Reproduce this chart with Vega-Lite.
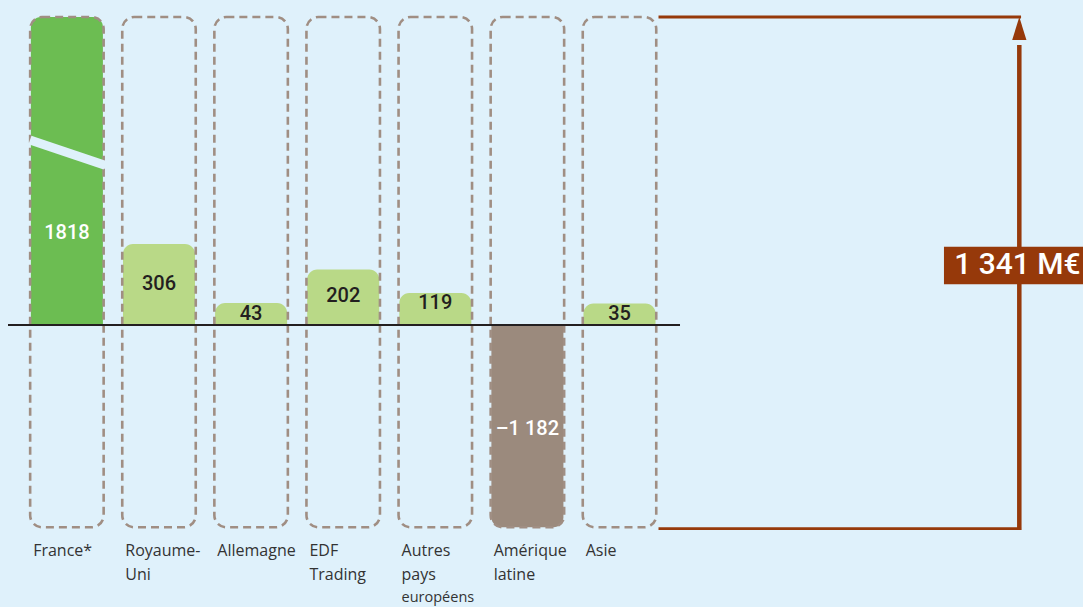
{
  "$schema": "https://vega.github.io/schema/vega-lite/v6.json",
  "width": 1083,
  "height": 607,
  "padding": 0,
  "autosize": "none",
  "background": "#dff1fb",
  "config": {"view": {"stroke": null}},
  "layer": [
    {
      "data": {
        "values": [
          {"region": "France*", "value": 1818, "text": "1818", "label": "France*"},
          {"region": "Royaume-Uni", "value": 306, "text": "306", "label": "Royaume-\nUni"},
          {"region": "Allemagne", "value": 43, "text": "43", "label": "Allemagne"},
          {"region": "EDF Trading", "value": 202, "text": "202", "label": "EDF\nTrading"},
          {"region": "Autres pays européens", "value": 119, "text": "119", "label": "Autres\npays", "note": "européens"},
          {"region": "Amérique latine", "value": -1182, "text": "–1 182", "label": "Amérique\nlatine"},
          {"region": "Asie", "value": 35, "text": "35", "label": "Asie"}
        ]
      },
      "transform": [{"calculate": "datum.value / 2", "as": "mid"}],
      "encoding": {
        "x": {
          "field": "region",
          "type": "nominal",
          "sort": null,
          "axis": null,
          "scale": {
            "domain": ["France*", "Royaume-Uni", "Allemagne", "EDF Trading", "Autres pays européens", "Amérique latine", "Asie"],
            "range": [20.85, 665.55],
            "paddingInner": 0.202,
            "paddingOuter": 0.101
          }
        }
      },
      "layer": [
        {
          "transform": [{"filter": "datum.value > 0"}],
          "mark": {"type": "bar", "width": {"band": 0.98}, "cornerRadiusTopLeft": 10, "cornerRadiusTopRight": 10},
          "encoding": {
            "y": {"field": "value", "type": "quantitative", "axis": null,
              "scale": {"type": "linear", "nice": false, "zero": false,
                "domain": [-1182, -591, 0, 17.5, 21.5, 35, 43, 59.5, 101, 119, 153, 202, 306, 909, 1818],
                "range": [527.3, 429, 325, 314, 314, 303.5, 303, 302.5, 296, 293, 284, 269.5, 244, 232.5, 17]}},
            "y2": {"datum": 0},
            "color": {
              "condition": {"test": "datum.region === 'France*'", "value": "#6cbd52"},
              "value": "#b9d987"
            }
          }
        },
        {
          "transform": [{"filter": "datum.value < 0"}],
          "mark": {"type": "bar", "width": {"band": 0.98}, "cornerRadiusBottomLeft": 10, "cornerRadiusBottomRight": 10, "color": "#9b8a7d"},
          "encoding": {
            "y": {"field": "value", "type": "quantitative", "axis": null},
            "y2": {"datum": 0}
          }
        },
        {
          "mark": {"type": "rect", "fill": "transparent", "stroke": "#a08e83", "strokeWidth": 2.6, "strokeDash": [8, 5], "cornerRadius": 12},
          "encoding": {
            "y": {"datum": 1818, "type": "quantitative", "axis": null},
            "y2": {"datum": -1182}
          }
        },
        {
          "mark": {"type": "text", "font": "Roboto", "fontSize": 20, "fontWeight": 500, "baseline": "middle", "align": "center"},
          "encoding": {
            "y": {"field": "mid", "type": "quantitative", "axis": null},
            "text": {"field": "text"},
            "color": {
              "condition": {"test": "datum.value > 1000 || datum.value < 0", "value": "#ffffff"},
              "value": "#231f20"
            }
          }
        },
        {
          "mark": {"type": "text", "font": "Open Sans", "fontSize": 16, "align": "left", "baseline": "alphabetic", "dx": 3, "dy": 29, "lineBreak": "\n", "lineHeight": 24, "color": "#333333"},
          "encoding": {
            "x": {"field": "region", "type": "nominal", "bandPosition": 0},
            "y": {"datum": -1182, "type": "quantitative", "axis": null},
            "text": {"field": "label"}
          }
        },
        {
          "transform": [{"filter": "isValid(datum.note)"}],
          "mark": {"type": "text", "font": "Open Sans", "fontSize": 14.5, "align": "left", "baseline": "alphabetic", "dx": 3, "dy": 75, "color": "#333333"},
          "encoding": {
            "x": {"field": "region", "type": "nominal", "bandPosition": 0},
            "y": {"datum": -1182, "type": "quantitative", "axis": null},
            "text": {"field": "note"}
          }
        }
      ]
    },
    {
      "data": {"values": [{"total": 1341, "label": "1 341 M€"}]},
      "layer": [
        {
          "mark": {"type": "rule", "stroke": "#dff1fb", "strokeWidth": 9, "strokeCap": "butt"},
          "encoding": {
            "x": {"datum": -0.4007, "type": "quantitative", "axis": null, "scale": {"domain": [0, 6], "range": [66.9, 619.5], "nice": false, "zero": false}},
            "x2": {"datum": 0.4137},
            "y": {"datum": 1299, "type": "quantitative", "axis": null},
            "y2": {"datum": 1192.5}
          }
        },
        {
          "mark": {"type": "rule", "stroke": "#231f20", "strokeWidth": 2.2},
          "encoding": {
            "x": {"datum": -0.6395, "type": "quantitative"},
            "x2": {"datum": 6.657},
            "y": {"datum": 0, "type": "quantitative"}
          }
        },
        {
          "mark": {"type": "rule", "stroke": "#96390a", "strokeWidth": 2.8},
          "encoding": {
            "x": {"datum": 6.4235, "type": "quantitative"},
            "x2": {"datum": 10.36},
            "y": {"datum": 1818, "type": "quantitative"}
          }
        },
        {
          "mark": {"type": "rule", "stroke": "#96390a", "strokeWidth": 2.8},
          "encoding": {
            "x": {"datum": 6.4235, "type": "quantitative"},
            "x2": {"datum": 10.36},
            "y": {"datum": -1190, "type": "quantitative"}
          }
        },
        {
          "mark": {"type": "rule", "stroke": "#96390a", "strokeWidth": 4.5, "strokeCap": "butt"},
          "encoding": {
            "x": {"datum": 10.341, "type": "quantitative"},
            "y": {"datum": -1198, "type": "quantitative"},
            "y2": {"datum": 1700}
          }
        },
        {
          "mark": {"type": "point", "shape": "M0,0L0.62,2L-0.62,2Z", "size": 529, "filled": true, "opacity": 1, "color": "#96390a", "strokeWidth": 0},
          "encoding": {
            "x": {"datum": 10.341, "type": "quantitative"},
            "y": {"datum": 1818, "type": "quantitative"}
          }
        },
        {
          "mark": {"type": "rect", "color": "#96390a"},
          "encoding": {
            "x": {"datum": 9.523, "type": "quantitative"},
            "x2": {"datum": 11.2},
            "y": {"datum": 295, "type": "quantitative"},
            "y2": {"datum": 151.9}
          }
        },
        {
          "mark": {"type": "text", "font": "Roboto", "fontSize": 30, "fontWeight": 500, "color": "#ffffff", "align": "center", "baseline": "alphabetic"},
          "encoding": {
            "x": {"datum": 10.32, "type": "quantitative"},
            "y": {"datum": 185.8, "type": "quantitative"},
            "text": {"field": "label"}
          }
        }
      ]
    }
  ],
  "resolve": {"scale": {"x": "independent"}}
}
